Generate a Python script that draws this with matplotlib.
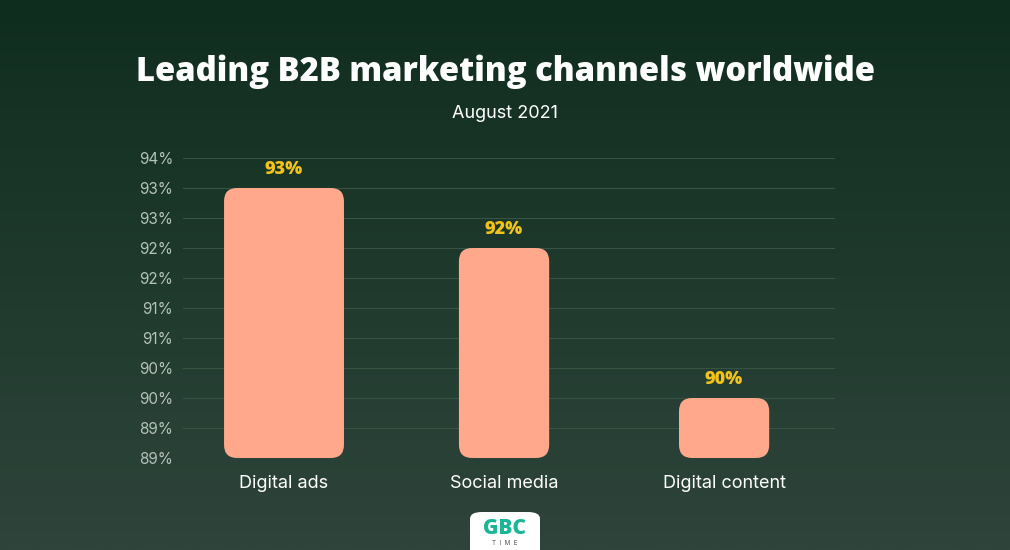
import numpy as np
import matplotlib.pyplot as plt
from matplotlib.patches import FancyBboxPatch
from matplotlib.colors import LinearSegmentedColormap

# Data
categories = ["Digital ads", "Social media", "Digital content"]
values = [93, 92, 89.5]
value_labels = ["93%", "92%", "90%"]
bar_widths = [0.545, 0.41, 0.41]
yticks = [88.5, 89, 89.5, 90, 90.5, 91, 91.5, 92, 92.5, 93, 93.5]

W, H = 1010, 550
fig = plt.figure(figsize=(W / 100, H / 100), dpi=100)

# Background gradient
bg = fig.add_axes([0, 0, 1, 1], zorder=0)
cmap = LinearSegmentedColormap.from_list("bg", ["#0f2d1f", "#1f3a2d", "#2f443b"])
grad = np.linspace(0, 1, 256).reshape(-1, 1)
bg.imshow(grad, aspect="auto", cmap=cmap, extent=[0, 1, 0, 1], origin="upper")
bg.set_xlim(0, 1)
bg.set_ylim(0, 1)
bg.axis("off")

# Main axes in pixel positions
left, right, top, bottom = 183, 835, 158, 458
ax = fig.add_axes([left / W, 1 - bottom / H, (right - left) / W, (bottom - top) / H], zorder=1)
ax.set_facecolor("none")
ax.set_xlim(-0.459, 2.504)
ax.set_ylim(88.5, 93.5)

for y in yticks:
    ax.axhline(y, color="#385244", lw=0.8, zorder=1)

x = np.arange(len(categories))
for xi, v, w, lab in zip(x, values, bar_widths, value_labels):
    p = FancyBboxPatch((xi - w / 2, 88.5), w, v - 88.5,
                       boxstyle="round,pad=0,rounding_size=0.06",
                       mutation_aspect=(5 / 300) / (2.963 / 652),
                       fc="#ffa88c", ec="none", zorder=3)
    ax.add_patch(p)
    ax.text(xi, v + 0.17, lab, ha="center", va="bottom", color="#f3c319",
            fontsize=13, fontweight="heavy", family="Open Sans", zorder=4)

ax.set_xticks(x)
ax.set_xticklabels(categories, color="white", fontsize=13, family="Inter")
ax.set_yticks(yticks)
ax.set_yticklabels([f"{int(np.floor(t + 0.5))}%" for t in yticks],
                   color="#b5c2b9", fontsize=11, family="Inter")
ax.tick_params(axis="both", length=0)
ax.tick_params(axis="x", pad=12)
ax.tick_params(axis="y", pad=7)
for s in ax.spines.values():
    s.set_visible(False)

# Titles
fig.text(0.5, 1 - 72 / H, "Leading B2B marketing channels worldwide", ha="center", va="center",
         color="white", fontsize=23.6, fontweight="heavy", family="Open Sans")
fig.text(0.5, 1 - 113 / H, "August 2021", ha="center", va="center",
         color="white", fontsize=13, family="Inter")

# Logo
lg = FancyBboxPatch((470 / W, -0.05), 70 / W, (550 - 512) / H + 0.05,
                    boxstyle="round,pad=0,rounding_size=0.012",
                    transform=fig.transFigure, fc="white", ec="none", zorder=5)
fig.add_artist(lg)
fig.text(505 / W, 1 - 528 / H, "GBC", ha="center", va="center", color="#1bb597",
         fontsize=15, fontweight="heavy", family="Open Sans", zorder=6)
fig.text(505 / W, 1 - 543 / H, "T  I  M  E", ha="center", va="center", color="#555555",
         fontsize=4.5, family="Inter", zorder=6)

fig.savefig("out.png", dpi=100)
